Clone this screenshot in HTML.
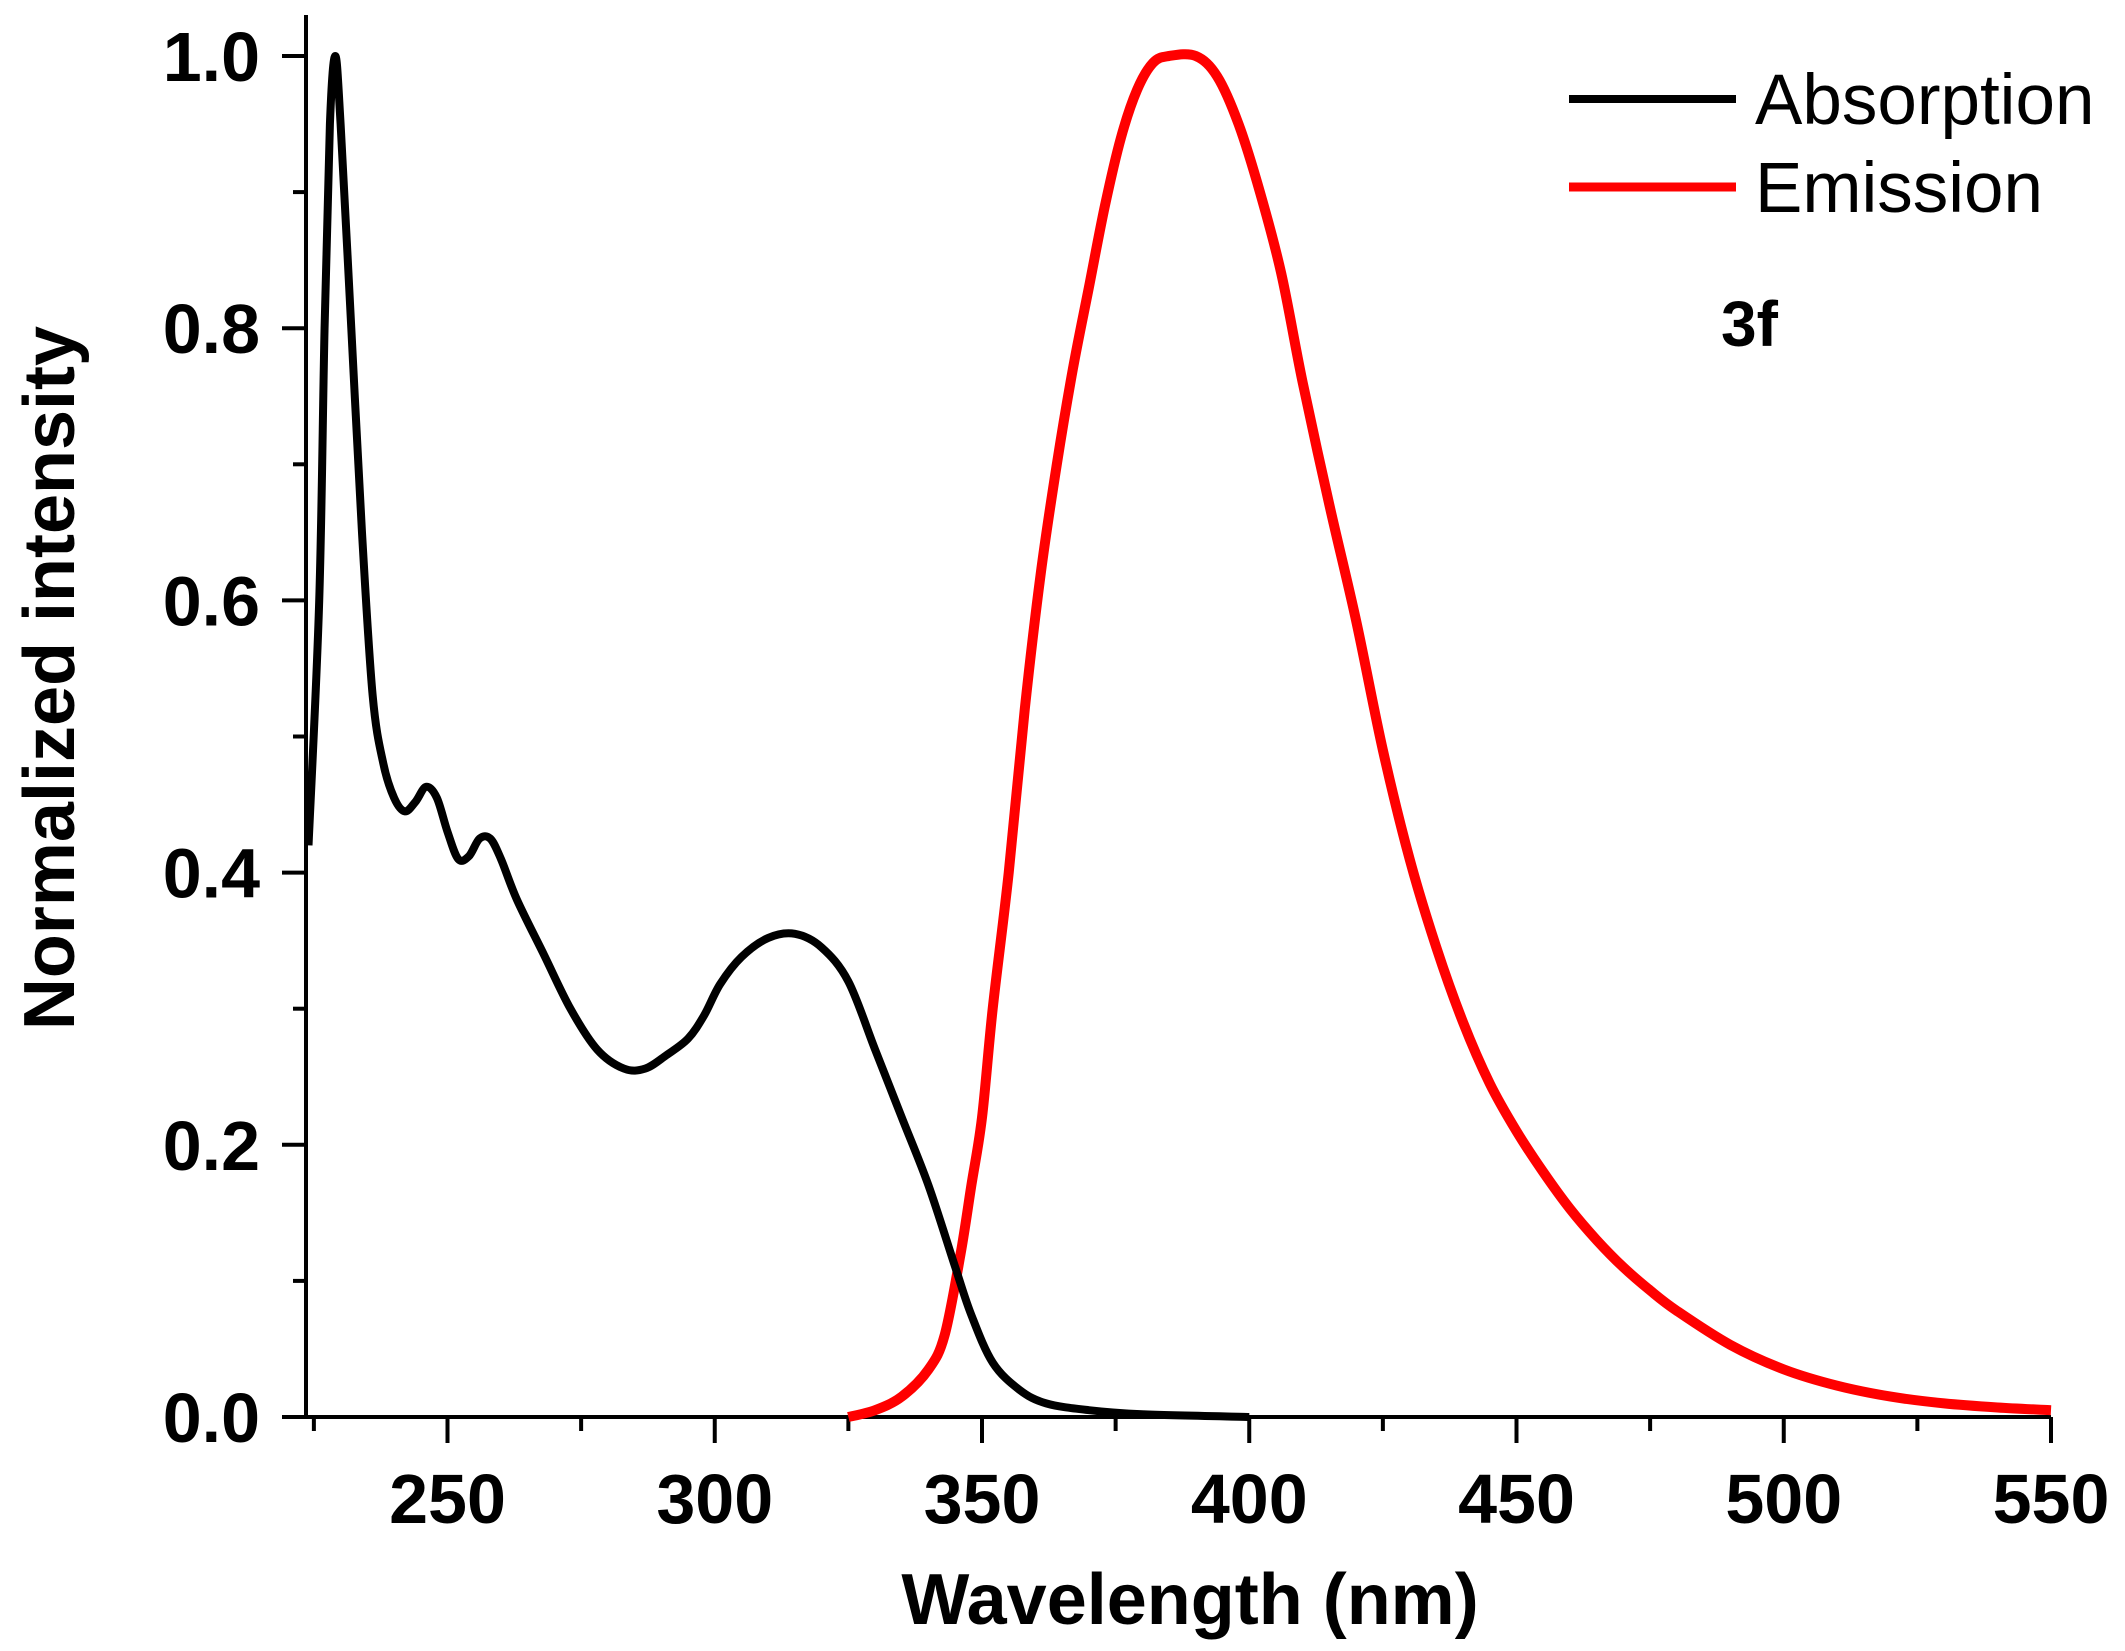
<!DOCTYPE html>
<html><head><meta charset="utf-8"><style>
html,body{margin:0;padding:0;background:#fff;}
svg{display:block;font-family:"Liberation Sans",Arial,sans-serif;}
</style></head><body>
<svg id="chart" width="2125" height="1651" viewBox="0 0 2125 1651">
<g id="axes"></g>
<g id="series"></g>
<g>
<line x1="1569" y1="99" x2="1736" y2="99" stroke="#000" stroke-width="8"/>
<text x="1755" y="124" font-size="71">Absorption</text>
<line x1="1569" y1="187" x2="1736" y2="187" stroke="#f00" stroke-width="9"/>
<text x="1755" y="212" font-size="71">Emission</text>
</g>
<text x="1721" y="346" font-size="64" font-weight="bold">3f</text>
<text x="1190" y="1624" font-size="72" font-weight="bold" text-anchor="middle">Wavelength (nm)</text>
<text transform="translate(74,678) rotate(-90)" font-size="72" font-weight="bold" text-anchor="middle">Normalized intensity</text>
</svg>
<script>
const absX=[224,226,227,228,229,230,232,234,236,238,240,242,244,246,248,250,252,254,256,258,260,263,268,273,278,283,287,291,295,298,301,305,310,315,320,325,330,335,340,345,348,352,357,362,370,380,400];
const absY=[0.42,0.6,0.8,0.95,1.0,0.95,0.8,0.65,0.53,0.48,0.455,0.445,0.452,0.463,0.455,0.43,0.41,0.412,0.425,0.425,0.41,0.38,0.34,0.3,0.27,0.256,0.256,0.266,0.278,0.295,0.318,0.338,0.352,0.355,0.345,0.32,0.27,0.22,0.17,0.11,0.075,0.04,0.02,0.01,0.005,0.002,0];
const emX=[325,330,335,340,343,346,348,350,352,355,358,361,364,367,370,373,376,379,382,385,390,394,398,402,406,410,415,420,425,430,435,440,445,450,455,460,465,470,475,480,490,500,510,520,530,540,550];
const emY=[0,0.005,0.015,0.035,0.06,0.12,0.17,0.22,0.3,0.4,0.52,0.62,0.7,0.77,0.83,0.89,0.94,0.975,0.995,1.0,1.0,0.985,0.95,0.9,0.84,0.76,0.67,0.585,0.49,0.41,0.345,0.29,0.245,0.21,0.18,0.153,0.13,0.11,0.093,0.078,0.053,0.035,0.023,0.015,0.01,0.007,0.005];
const xTicks=[250,300,350,400,450,500,550];
const xMinor=[225,275,325,375,425,475,525];
const yTicks=[0,0.2,0.4,0.6,0.8,1.0];
const yTickLabels=["0.0","0.2","0.4","0.6","0.8","1.0"];
const yMinor=[0.1,0.3,0.5,0.7,0.9];

const NS='http://www.w3.org/2000/svg';
const X=v=>447.5+(v-250)*5.345;
const Y=v=>1417-v*1361;
const axes=document.getElementById('axes'), ser=document.getElementById('series');
function mk(tag,attrs,parent){const e=document.createElementNS(NS,tag);for(const k in attrs)e.setAttribute(k,attrs[k]);parent.appendChild(e);return e;}
let e=mk('line',{x1:306,y1:1417,x2:2051,y2:1417,stroke:'#000','stroke-width':4},axes);


e=mk('line',{x1:306,y1:1419,x2:306,y2:15,stroke:'#000','stroke-width':4},axes);


xTicks.forEach(v=>{
 const t=mk('line',{x1:X(v),y1:1417,x2:X(v),y2:1443,stroke:'#000','stroke-width':4},axes);
 
 
 const l=mk('text',{x:X(v),y:1523,'font-size':70,'font-weight':'bold','text-anchor':'middle'},axes);
 l.textContent=v;
 
 
});
xMinor.forEach(v=>{
 const t=mk('line',{x1:X(v),y1:1417,x2:X(v),y2:1431,stroke:'#000','stroke-width':4},axes);
 
 
});
yTicks.forEach((v,i)=>{
 const t=mk('line',{x1:306,y1:Y(v),x2:282,y2:Y(v),stroke:'#000','stroke-width':4},axes);
 
 
 const l=mk('text',{x:260,y:Y(v)+25,'font-size':70,'font-weight':'bold','text-anchor':'end'},axes);
 l.textContent=yTickLabels[i];
 
 
});
yMinor.forEach(v=>{
 const t=mk('line',{x1:306,y1:Y(v),x2:293,y2:Y(v),stroke:'#000','stroke-width':4},axes);
 
 
});
function path(xs,ys){
 const p=xs.map((x,i)=>[X(x),Y(ys[i])]);
 let d='M'+p[0][0]+','+p[0][1];
 for(let i=0;i<p.length-1;i++){
  const p0=p[Math.max(0,i-1)],p1=p[i],p2=p[i+1],p3=p[Math.min(p.length-1,i+2)];
  const c1x=p1[0]+(p2[0]-p0[0])/6,c1y=p1[1]+(p2[1]-p0[1])/6;
  const c2x=p2[0]-(p3[0]-p1[0])/6,c2y=p2[1]-(p3[1]-p1[1])/6;
  d+=` C${c1x},${c1y} ${c2x},${c2y} ${p2[0]},${p2[1]}`;
 }
 return d;
}
const em=mk('path',{d:path(emX,emY),fill:'none',stroke:'#f00','stroke-width':10,'stroke-linejoin':'round'},ser);


const ab=mk('path',{d:path(absX,absY),fill:'none',stroke:'#000','stroke-width':8,'stroke-linejoin':'round'},ser);


</script>
</body></html>
